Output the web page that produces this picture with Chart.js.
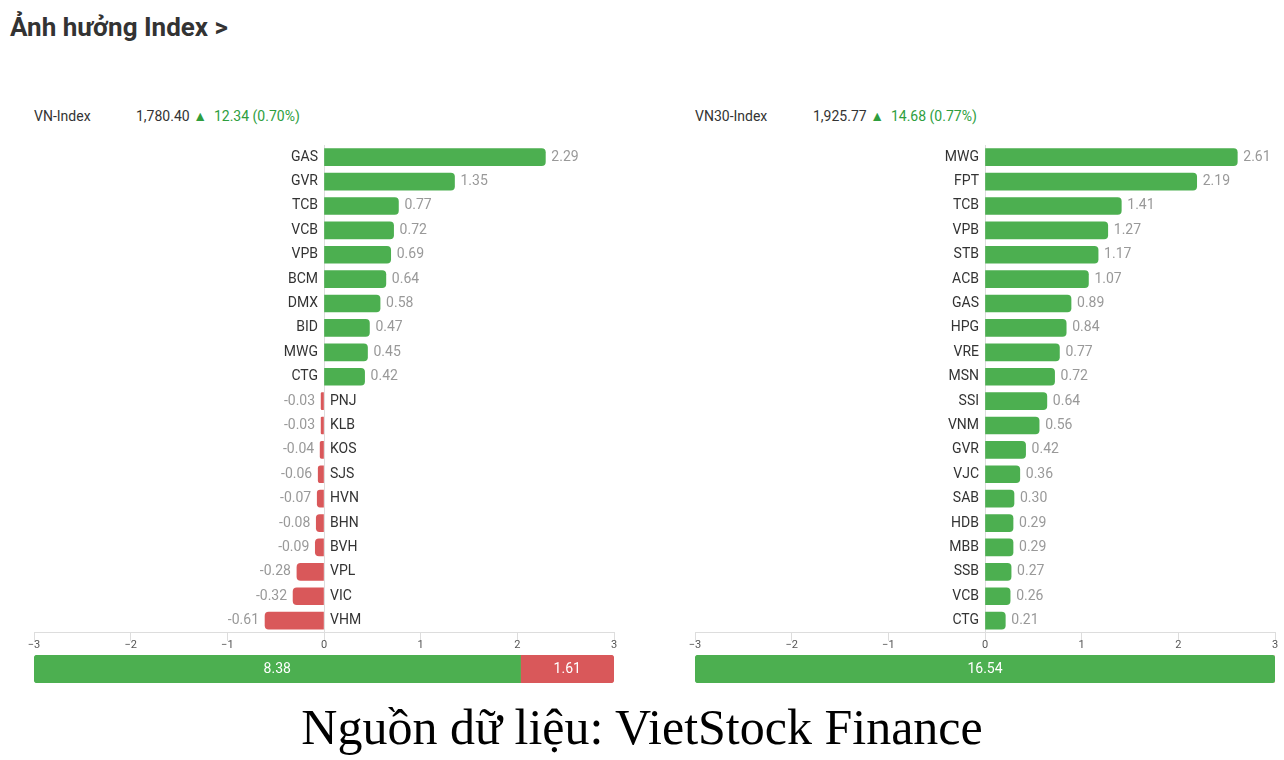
<!DOCTYPE html>
<html lang="vi">
<head>
<meta charset="UTF-8">
<title>Ảnh hưởng Index</title>
<script src="https://cdn.jsdelivr.net/npm/chart.js"></script>
<style>
  body { margin: 0; width: 1284px; height: 760px; background: #fff; position: relative; font-family: Roboto, Arial, sans-serif; overflow: hidden; }
  h1 { position: absolute; left: 10px; top: 12px; margin: 0; font-size: 26px; font-weight: bold; color: #333; }
  .info { position: absolute; top: 108px; font-size: 14px; color: #333; white-space: nowrap; }
  .info .name { display: inline-block; width: 102px; }
  .info .up { color: #2e9e3e; }
  .box { position: absolute; }
  .foot { position: absolute; left: 0; width: 1284px; top: 698px; text-align: center; font-family: "Liberation Serif", serif; font-size: 50px; color: #000; }
</style>
</head>
<body>
<h1>Ảnh hưởng Index &gt;</h1>
<div class="info" style="left:34px"><span class="name">VN-Index</span>1,780.40 <span class="up">▲ &nbsp;12.34 (0.70%)</span></div>
<div class="info" style="left:695px"><span class="name" style="width:118px">VN30-Index</span>1,925.77 <span class="up">▲ &nbsp;14.68 (0.77%)</span></div>

<div class="box" style="left:14px;top:140px;width:620px;height:510px"><canvas id="vnMain"></canvas></div>
<div class="box" style="left:675px;top:140px;width:620px;height:510px"><canvas id="vn30Main"></canvas></div>
<div class="box" style="left:34px;top:655px;width:580px;height:28px"><canvas id="vnSum"></canvas></div>
<div class="box" style="left:695px;top:655px;width:580px;height:28px"><canvas id="vn30Sum"></canvas></div>

<div class="foot">Nguồn dữ liệu: VietStock Finance</div>

<script>
const vnTickers = ['GAS','GVR','TCB','VCB','VPB','BCM','DMX','BID','MWG','CTG','PNJ','KLB','KOS','SJS','HVN','BHN','BVH','VPL','VIC','VHM'];
const vnValues = [2.29,1.35,0.77,0.72,0.69,0.64,0.58,0.47,0.45,0.42,-0.03,-0.03,-0.04,-0.06,-0.07,-0.08,-0.09,-0.28,-0.32,-0.61];
const vn30Tickers = ['MWG','FPT','TCB','VPB','STB','ACB','GAS','HPG','VRE','MSN','SSI','VNM','GVR','VJC','SAB','HDB','MBB','SSB','VCB','CTG'];
const vn30Values = [2.61,2.19,1.41,1.27,1.17,1.07,0.89,0.84,0.77,0.72,0.64,0.56,0.42,0.36,0.30,0.29,0.29,0.27,0.26,0.21];
const xTicks = [-3,-2,-1,0,1,2,3];
const vnSummary = [8.38, 1.61];
const vn30Summary = [16.54, 0];

const GREEN = '#4caf50', RED = '#d9585a';

const barLabels = {
  id: 'barLabels',
  afterDatasetsDraw(chart) {
    const ctx = chart.ctx, meta = chart.getDatasetMeta(0), x = chart.scales.x;
    const zero = x.getPixelForValue(0);
    const vals = chart.data.datasets[0].data;
    ctx.save();
    ctx.font = '14px Roboto, Arial, sans-serif';
    ctx.textBaseline = 'middle';
    meta.data.forEach((bar, i) => {
      const v = vals[i], y = bar.y, end = x.getPixelForValue(v);
      const name = chart.data.labels[i], txt = v.toFixed(2);
      if (v >= 0) {
        ctx.fillStyle = '#333'; ctx.textAlign = 'right'; ctx.fillText(name, zero - 6, y);
        ctx.fillStyle = '#999'; ctx.textAlign = 'left'; ctx.fillText(txt, end + 6, y);
      } else {
        ctx.fillStyle = '#999'; ctx.textAlign = 'right'; ctx.fillText(txt, end - 6, y);
        ctx.fillStyle = '#333'; ctx.textAlign = 'left'; ctx.fillText(name, zero + 6, y);
      }
    });
    ctx.restore();
  }
};

function mainChart(id, labels, values) {
  new Chart(document.getElementById(id), {
    type: 'bar',
    data: {
      labels: labels,
      datasets: [{
        data: values,
        backgroundColor: values.map(v => v >= 0 ? GREEN : RED),
        borderRadius: 4,
        borderSkipped: 'start',
        barThickness: 17
      }]
    },
    options: {
      indexAxis: 'y',
      responsive: true,
      maintainAspectRatio: false,
      animation: false,
      layout: { padding: { left: 20, right: 20, top: 5, bottom: 0 } },
      plugins: { legend: { display: false }, tooltip: { enabled: false } },
      scales: {
        x: {
          min: -3, max: 3,
          afterBuildTicks: s => { s.ticks = xTicks.map(v => ({ value: v })); },
          grid: { drawOnChartArea: false, drawTicks: true, tickLength: 8, color: '#ddd' },
          border: { color: '#ddd' },
          ticks: { color: '#555', font: { size: 11, family: 'Roboto, Arial, sans-serif' }, padding: -2,
                   callback: v => v < 0 ? '\u2212' + Math.abs(v) : String(v) }
        },
        y: {
          display: false,
          afterDataLimits: s => { s.max += 0.62; }
        }
      }
    },
    plugins: [barLabels, {
      id: 'zeroLine',
      beforeDatasetsDraw(chart) {
        const c = chart.ctx, x0 = chart.scales.x.getPixelForValue(0), a = chart.chartArea;
        c.save(); c.strokeStyle = '#ddd'; c.lineWidth = 1;
        c.beginPath(); c.moveTo(x0 + 0.5, a.top); c.lineTo(x0 + 0.5, a.bottom); c.stroke(); c.restore();
      }
    }]
  });
}

const sumLabels = {
  id: 'sumLabels',
  afterDatasetsDraw(chart) {
    const ctx = chart.ctx;
    ctx.save();
    ctx.font = '14px Roboto, Arial, sans-serif';
    ctx.fillStyle = '#fff'; ctx.textAlign = 'center'; ctx.textBaseline = 'middle';
    chart.data.datasets.forEach((ds, i) => {
      const bar = chart.getDatasetMeta(i).data[0];
      if (ds.data[0] > 0) ctx.fillText(ds.data[0].toFixed(2), (bar.x + bar.base) / 2, bar.y);
    });
    ctx.restore();
  }
};

function sumChart(id, vals) {
  const total = vals[0] + vals[1];
  const onlyOne = vals[1] === 0;
  new Chart(document.getElementById(id), {
    type: 'bar',
    data: {
      labels: [''],
      datasets: [
        { data: [vals[0]], backgroundColor: GREEN, barPercentage: 1, categoryPercentage: 1, borderSkipped: false,
          borderRadius: onlyOne ? 4 : { topLeft: 4, bottomLeft: 4, topRight: 0, bottomRight: 0 } },
        { data: [vals[1]], backgroundColor: RED, barPercentage: 1, categoryPercentage: 1, borderSkipped: false,
          borderRadius: { topLeft: 0, bottomLeft: 0, topRight: 4, bottomRight: 4 } }
      ]
    },
    options: {
      indexAxis: 'y',
      responsive: true,
      maintainAspectRatio: false,
      animation: false,
      layout: { padding: 0 },
      plugins: { legend: { display: false }, tooltip: { enabled: false } },
      scales: {
        x: { stacked: true, display: false, min: 0, max: total },
        y: { stacked: true, display: false }
      }
    },
    plugins: [sumLabels]
  });
}

mainChart('vnMain', vnTickers, vnValues);
mainChart('vn30Main', vn30Tickers, vn30Values);
sumChart('vnSum', vnSummary);
sumChart('vn30Sum', vn30Summary);
</script>
</body>
</html>
